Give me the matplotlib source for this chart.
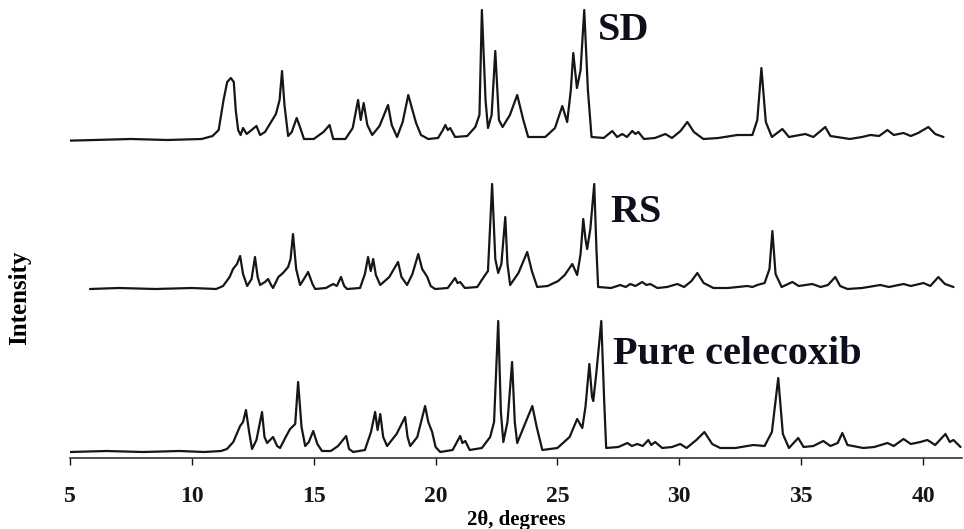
import matplotlib
matplotlib.use("Agg")
import matplotlib.pyplot as plt

sd_theta = [4.4, 6.0, 7.5, 9.0, 10.4, 10.85, 11.1, 11.3, 11.45, 11.6, 11.72, 11.8, 11.9, 12.0, 12.1,
            12.25, 12.45, 12.65, 12.8, 13.0, 13.25, 13.45, 13.6, 13.7, 13.8, 13.95, 14.1, 14.3, 14.45,
            14.6, 15.0, 15.4, 15.65, 15.8, 16.3, 16.6, 16.82, 16.93, 17.05, 17.2, 17.4, 17.7, 18.05,
            18.2, 18.42, 18.65, 18.88, 19.05, 19.2, 19.4, 19.7, 20.1, 20.3, 20.4, 20.5, 20.6, 20.8,
            21.3, 21.63, 21.8, 21.9, 22.05, 22.15, 22.3, 22.45, 22.6, 22.75, 23.05, 23.35, 23.6, 23.8,
            24.5, 24.9, 25.2, 25.4, 25.55, 25.65, 25.8, 25.95, 26.1, 26.25, 26.4, 26.9, 27.25, 27.45,
            27.66, 27.85, 28.07, 28.2, 28.32, 28.55, 29.0, 29.43, 29.7, 30.05, 30.33, 30.6, 30.99,
            31.6, 32.38, 33.0, 33.2, 33.37, 33.55, 33.8, 34.23, 34.5, 35.17, 35.5, 35.99, 36.2, 37.0,
            37.5, 37.84, 38.2, 38.54, 38.8, 39.2, 39.5, 39.8, 40.22, 40.5, 40.84]
sd_int = [-1, 0, 1, 0, 1, 4, 10, 40, 58, 62, 58, 30, 10, 5, 12,
          6, 10, 14, 5, 8, 18, 26, 40, 69, 35, 4, 8, 22, 12,
          1, 1, 8, 15, 1, 1, 12, 40, 20, 37, 15, 5, 14, 35,
          15, 3, 18, 45, 30, 17, 5, 1, 2, 10, 15, 10, 12, 3,
          4, 13, 25, 130, 40, 12, 25, 89, 20, 13, 25, 45, 20, 3,
          3, 12, 34, 18, 50, 87, 52, 70, 130, 50, 3, 2, 9, 3,
          6, 3, 9, 6, 8, 1, 2, 6, 2, 9, 18, 8, 1,
          2, 5, 5, 20, 72, 18, 3, 11, 3, 6, 3, 13, 4, 1,
          3, 5, 4, 10, 5, 7, 4, 7, 13, 6, 3]

rs_theta = [5.82, 7.0, 8.5, 10.0, 11.0, 11.28, 11.55, 11.69, 11.85, 11.98, 12.1, 12.27, 12.45, 12.59,
            12.7, 12.8, 13.0, 13.13, 13.25, 13.33, 13.55, 13.74, 13.95, 14.05, 14.15, 14.28, 14.44,
            14.6, 14.77, 14.95, 15.06, 15.5, 15.8, 15.95, 16.12, 16.25, 16.37, 16.9, 17.1, 17.23,
            17.34, 17.44, 17.55, 17.73, 18.1, 18.46, 18.6, 18.83, 19.05, 19.29, 19.45, 19.66, 19.8,
            19.98, 20.5, 20.8, 20.9, 21.01, 21.2, 21.71, 21.95, 22.15, 22.32, 22.45, 22.57, 22.7,
            22.86, 22.95, 23.06, 23.4, 23.76, 23.95, 24.17, 24.6, 25.03, 25.3, 25.61, 25.81, 25.95,
            26.06, 26.15, 26.22, 26.35, 26.51, 26.6, 26.67, 27.2, 27.58, 27.8, 27.99, 28.2, 28.48,
            28.65, 28.81, 29.1, 29.5, 29.92, 30.2, 30.5, 30.74, 31.0, 31.4, 32.0, 32.79, 33.0, 33.2,
            33.5, 33.7, 33.82, 33.95, 34.2, 34.64, 34.9, 35.46, 35.8, 36.1, 36.4, 36.6, 36.9, 37.5,
            38.25, 38.6, 39.2, 39.5, 40.02, 40.3, 40.63, 40.9, 41.25]
rs_int = [0, 1, 0, 1, 0, 3, 12, 20, 25, 33, 15, 3, 10, 32,
          12, 4, 7, 10, 4, 1, 12, 16, 22, 30, 55, 20, 4,
          10, 17, 5, 0, 1, 5, 3, 12, 3, 0, 1, 15, 32,
          18, 30, 14, 4, 12, 27, 12, 4, 15, 35, 20, 12, 3,
          0, 1, 11, 6, 7, 1, 2, 11, 18, 105, 30, 16, 25,
          72, 25, 4, 16, 37, 18, 2, 3, 8, 14, 25, 14, 35,
          70, 50, 40, 60, 105, 40, 2, 1, 4, 2, 5, 3, 7,
          4, 5, 1, 2, 5, 2, 8, 16, 6, 1, 1, 3, 2, 4,
          6, 20, 58, 15, 2, 7, 3, 5, 2, 4, 12, 3, 0, 1,
          4, 2, 5, 3, 6, 3, 12, 5, 2]

pure_theta = [5.0, 6.5, 8.0, 9.5, 10.5, 11.2, 11.44, 11.7, 11.98, 12.1, 12.22, 12.35, 12.47, 12.65,
              12.88, 12.98, 13.09, 13.33, 13.5, 13.62, 13.85, 14.03, 14.24, 14.36, 14.5, 14.65, 14.8,
              14.98, 15.15, 15.34, 15.7, 16.0, 16.33, 16.45, 16.62, 17.1, 17.35, 17.52, 17.62, 17.73,
              17.85, 18.01, 18.4, 18.75, 18.85, 18.96, 19.25, 19.57, 19.7, 19.86, 20.0, 20.19, 20.7,
              21.01, 21.1, 21.22, 21.4, 21.9, 22.24, 22.4, 22.57, 22.68, 22.78, 22.95, 23.14, 23.25,
              23.35, 23.7, 23.97, 24.15, 24.38, 25.0, 25.5, 25.81, 26.02, 26.15, 26.31, 26.42, 26.47,
              26.6, 26.8, 26.92, 27.0, 27.5, 27.87, 28.05, 28.28, 28.5, 28.73, 28.85, 29.01, 29.3,
              29.7, 30.04, 30.3, 30.7, 31.03, 31.35, 31.68, 32.3, 33.04, 33.5, 33.8, 34.06, 34.25,
              34.5, 34.88, 35.1, 35.5, 35.91, 36.2, 36.5, 36.69, 36.9, 37.55, 38.0, 38.54, 38.8, 39.2,
              39.5, 39.89, 40.18, 40.5, 40.92, 41.1, 41.25, 41.54]
pure_int = [0, 1, 0, 1, 0, 1, 3, 10, 26, 30, 42, 20, 3, 12,
            40, 15, 9, 15, 6, 4, 15, 23, 28, 70, 25, 6, 10,
            21, 8, 1, 1, 6, 16, 3, 0, 2, 20, 40, 22, 38,
            15, 6, 18, 35, 15, 6, 15, 46, 30, 20, 5, 0, 2,
            16, 9, 11, 2, 4, 15, 30, 131, 40, 10, 30, 90, 30,
            9, 30, 46, 25, 2, 4, 15, 33, 24, 45, 88, 55, 51,
            80, 131, 50, 4, 5, 9, 6, 8, 6, 12, 7, 10, 4,
            5, 8, 4, 12, 20, 8, 4, 4, 7, 6, 20, 74, 18,
            4, 14, 5, 6, 11, 6, 9, 19, 7, 4, 5, 9, 6, 13,
            8, 10, 12, 7, 18, 10, 12, 5]

labels = ["Pure celecoxib", "RS", "SD"]
x_ticks = [5, 10, 15, 20, 25, 30, 35, 40]

# vertical offsets of the stacked traces
offsets = [0, 163, 312]
label_pos = [(27.3, 97), (27.17, 240), (26.67, 422)]

serif = ["Liberation Serif", "DejaVu Serif"]
ink = "#161616"

fig = plt.figure(figsize=(9.64, 5.29), dpi=100)
ax = fig.add_axes([70 / 964, 1 - 458 / 529, 892 / 964, 458 / 529])

traces = [(pure_theta, pure_int), (rs_theta, rs_int), (sd_theta, sd_int)]
for (tx, ty), off in zip(traces, offsets):
    ax.plot(tx, [v + off for v in ty], color=ink, lw=1.6,
            solid_joinstyle="round", solid_capstyle="round")

for name, (lx, ly) in zip(labels, label_pos):
    ax.text(lx, ly, name, ha="left", va="center", fontsize=29, fontweight="bold",
            family=serif, color="#0e0f1c")

ax.set_xlim(5, 41.6)
ax.set_ylim(-6, 452)
ax.set_xticks(x_ticks)
ax.set_xticklabels([str(t) for t in x_ticks], fontsize=17, fontweight="bold", family=serif)
ax.tick_params(axis="x", direction="out", length=5, width=1, pad=15, colors=ink)
ax.set_yticks([])
for side in ["left", "right", "top"]:
    ax.spines[side].set_visible(False)
ax.spines["bottom"].set_color("#333333")
ax.spines["bottom"].set_linewidth(1.2)

ax.set_xlabel("2θ, degrees", fontsize=15, fontweight="bold", family=serif, labelpad=2)
fig.text(20 / 964, 1 - 298 / 529, "Intensity", rotation=90, ha="center", va="center",
         fontsize=18, fontweight="bold", family=serif)

fig.savefig("out.png", dpi=100)
